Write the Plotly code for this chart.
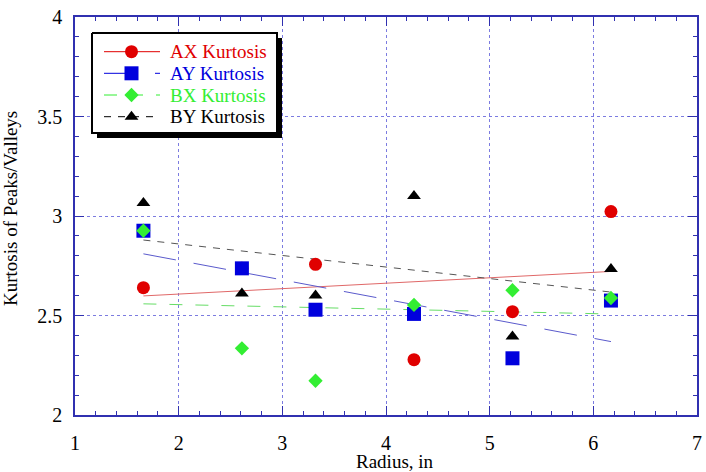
import numpy as np
import plotly.graph_objects as go

radius = [1.66, 2.61, 3.32, 4.27, 5.22, 6.17]
ax_kurt = [2.64, 2.737, 2.757, 2.278, 2.519, 3.022]
ay_kurt = [2.926, 2.737, 2.529, 2.508, 2.285, 2.575]
bx_kurt = [2.926, 2.335, 2.172, 2.553, 2.627, 2.588]
by_kurt = [3.065, 2.611, 2.600, 3.100, 2.395, 2.734]

names = ["AX Kurtosis", "AY Kurtosis", "BX Kurtosis", "BY Kurtosis"]
series = [ax_kurt, ay_kurt, bx_kurt, by_kurt]
colors = ["#e00000", "#0000dd", "#33ee33", "#000000"]
line_colors = ["#e06868", "#5a5acc", "#66dd66", "#555555"]
symbols = ["circle", "square", "diamond", "triangle-up"]
sizes = [13, 14, 11, 12]
dashes = ["solid", "33px,18px", "13px,13px", "7px,7px"]

x_title = "Radius, in"
y_title = "Kurtosis of Peaks/Valleys"

FONT = "Liberation Serif"
AXC = "#3030b0"
GRIDC = "#7c7ce0"

fig = go.Figure()

# trend lines (least squares fit of each series)
for ys, lc, d in zip(series, line_colors, dashes):
    k, b = np.polyfit(radius, ys, 1)
    xs = [min(radius), max(radius)]
    fig.add_trace(go.Scatter(x=xs, y=[k * x + b for x in xs], mode="lines",
                             line=dict(color=lc, width=1, dash=d),
                             showlegend=False, hoverinfo="skip"))

# markers
for nm, ys, c, s, sz in zip(names, series, colors, symbols, sizes):
    fig.add_trace(go.Scatter(x=radius, y=ys, mode="markers", name=nm,
                             marker=dict(color=c, symbol=s, size=sz, line=dict(width=0)),
                             showlegend=False))

# ---- custom legend drawn on an overlay axis measured in pixels ----
LX = "x2"
LY = "y2"
box = dict(x0=92, x1=277, y0=33, y1=133)
shadow_off = 5
fig.add_trace(go.Scatter(
    x=[box["x0"] + shadow_off, box["x1"] + shadow_off, box["x1"] + shadow_off, box["x0"] + shadow_off, box["x0"] + shadow_off],
    y=[box["y0"] + shadow_off, box["y0"] + shadow_off, box["y1"] + shadow_off, box["y1"] + shadow_off, box["y0"] + shadow_off],
    fill="toself", fillcolor="black", mode="lines", line=dict(width=0, color="black"),
    xaxis=LX, yaxis=LY, showlegend=False, hoverinfo="skip"))
fig.add_trace(go.Scatter(
    x=[box["x0"], box["x1"], box["x1"], box["x0"], box["x0"]],
    y=[box["y0"], box["y0"], box["y1"], box["y1"], box["y0"]],
    fill="toself", fillcolor="white", mode="lines", line=dict(width=2, color="black"),
    xaxis=LX, yaxis=LY, showlegend=False, hoverinfo="skip"))

row_y = [51.7, 73.3, 95.0, 116.7]
annotations = []
for nm, c, s, sz, d, ry in zip(names, colors, symbols, sizes, dashes, row_y):
    fig.add_trace(go.Scatter(x=[104, 160], y=[ry, ry], mode="lines",
                             line=dict(color=c, width=1, dash=d),
                             xaxis=LX, yaxis=LY, showlegend=False, hoverinfo="skip"))
    fig.add_trace(go.Scatter(x=[131.5], y=[ry], mode="markers",
                             marker=dict(color=c, symbol=s, size=sz, line=dict(width=0)),
                             xaxis=LX, yaxis=LY, showlegend=False, hoverinfo="skip"))
    annotations.append(dict(x=168, y=ry, xref=LX, yref=LY, text=nm, showarrow=False,
                            xanchor="left", yanchor="middle",
                            font=dict(family=FONT, size=19, color=c)))

# axis titles
annotations.append(dict(x=(395 - 75) / 622, y=(415 - 462) / 398, xref="paper", yref="paper",
                        text=x_title, showarrow=False, xanchor="center", yanchor="middle",
                        borderpad=0,
                        font=dict(family=FONT, size=19, color="black")))
annotations.append(dict(x=(10 - 75) / 622, y=(415 - 209) / 398, xref="paper", yref="paper",
                        text=y_title, showarrow=False, xanchor="center", yanchor="middle",
                        textangle=-90, font=dict(family=FONT, size=19, color="black")))

axis_common = dict(
    showline=True, linecolor=AXC, linewidth=1.5, mirror="allticks",
    ticks="inside", tickcolor=AXC, ticklen=9, tickwidth=1,
    showgrid=True, gridcolor=GRIDC, griddash="dot", gridwidth=1,
    zeroline=False, automargin=False,
    tickfont=dict(family=FONT, size=20, color="black"),
)

fig.update_layout(
    width=706, height=472,
    margin=dict(l=75, r=9, t=17, b=57),
    paper_bgcolor="white", plot_bgcolor="white",
    font=dict(family=FONT, size=19, color="black"),
    showlegend=False,
    annotations=annotations,
    xaxis=dict(range=[1, 7], dtick=1, tick0=1, ticklabelstandoff=9,
               minor=dict(dtick=0.2, ticks="inside", ticklen=4, tickcolor=AXC, showgrid=False),
               **axis_common),
    yaxis=dict(range=[2, 4], dtick=0.5, tick0=2, ticklabelstandoff=7,
               minor=dict(dtick=0.1, ticks="inside", ticklen=4, tickcolor=AXC, showgrid=False),
               **axis_common),
    xaxis2=dict(overlaying="x", range=[75, 697], visible=False, fixedrange=True),
    yaxis2=dict(overlaying="y", range=[415, 17], visible=False, fixedrange=True),
)

fig.write_html("out.html")
